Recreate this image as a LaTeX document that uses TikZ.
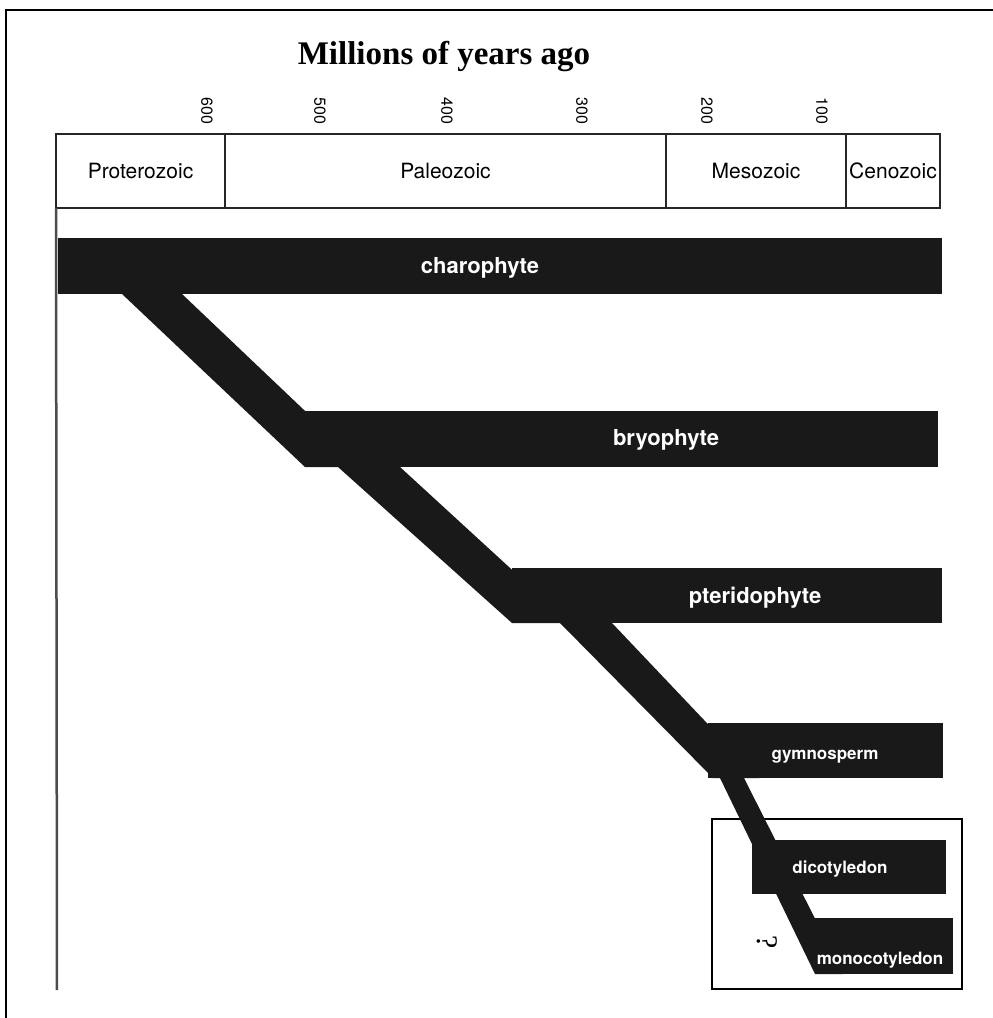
\documentclass[tikz,border=0pt]{standalone}
\usepackage{fontspec}
\setmainfont{Liberation Serif}
\setsansfont{TeX Gyre Heros}
\usetikzlibrary{positioning,calc}

\tikzset{
  lineage/.style={fill=black!90, inner sep=0pt, outer sep=0pt, anchor=north west},
  trunk/.style={fill=black!90},
  taxon/.style={text=white, inner sep=0pt, font=\sffamily\bfseries\fontsize{22}{24}\selectfont},
  small taxon/.style={taxon, font=\sffamily\bfseries\fontsize{17}{19}\selectfont},
  eracell/.style={draw=black!85, line width=2pt, inner sep=0pt, outer sep=0pt,
    minimum height=74pt, font=\sffamily\fontsize{21}{24}\selectfont},
  agelabel/.style={rotate=-90, inner sep=0pt, font=\sffamily\fontsize{16}{18}\selectfont},
}

\begin{document}
\begin{tikzpicture}[x=1pt,y=-1pt]
    \useasboundingbox (0,0) rectangle (993,1018);
    % page frame
    \draw[line width=1.5pt] (6,1018) -- (6,10) -- (993,10);

    \node[font=\bfseries\fontsize{33}{36}\selectfont] (title) at (444,57) {Millions of years ago};
    \foreach \age/\xpos in {600/207, 500/320, 400/447, 300/582, 200/707, 100/822}
      \node[agelabel] (age\age) at (\xpos,111) {\age};

    % eras
    \node[eracell, minimum width=169pt, anchor=north west] (prot) at (56,134) {Proterozoic};
    \node[eracell, minimum width=441pt, right=0pt of prot]  (paleo) {Paleozoic};
    \node[eracell, minimum width=180pt, right=0pt of paleo] (meso)  {Mesozoic};
    \node[eracell, minimum width=94pt,  right=0pt of meso]  (ceno)  {Cenozoic};

    \coordinate (axis end) at (57,990);
    \draw[black!70, line width=2.5pt] (prot.south west) -- (axis end);

    % angiosperm box
    \node[draw, line width=2pt, minimum width=250pt, minimum height=170pt,
      anchor=north west, inner sep=0pt] (angio) at (711,818) {};

    % lineages
    \node[lineage, minimum width=884pt, minimum height=56pt] (charo) at (58,238) {};
    \node[lineage, minimum width=633pt, minimum height=56pt] (bryo)  at (305,411) {};
    \node[lineage, minimum width=430pt, minimum height=55pt] (pteri) at (512,568) {};
    \node[lineage, minimum width=235pt, minimum height=55pt] (gymno) at (708,723) {};
    \node[lineage, minimum width=194pt, minimum height=54pt] (dicot) at (752,840) {};
    \node[lineage, minimum width=138pt, minimum height=56pt] (mono)  at (815,918) {};

    \fill[trunk] ($(charo.south west)+(64,0)$) -- ($(charo.south west)+(124,0)$)
      -- ($(bryo.south west)+(59,0)$) -- (bryo.south west) -- cycle;
    \fill[trunk] ($(bryo.south west)+(33,0)$) -- ($(bryo.south west)+(95,0)$)
      -- ($(pteri.south west)+(58,0)$) -- (pteri.south west) -- cycle;
    \fill[trunk] ($(pteri.south west)+(48,0)$) -- ($(pteri.south west)+(100,0)$)
      -- ($(gymno.south west)+(51,0)$) -- ($(gymno.south west)+(5,0)$) -- cycle;
    \fill[trunk] ($(gymno.south west)+(12,0)$) -- ($(gymno.south west)+(36,0)$)
      -- ($(mono.south west)+(28,0)$) -- (mono.south west) -- cycle;

    \node[taxon] (charo label) at (480,268) {charophyte};
    \node[taxon] (bryo label)  at (666,440) {bryophyte};
    \node[taxon] (pteri label) at (755,598) {pteridophyte};
    \node[small taxon] (gymno label) at (825,757) {gymnosperm};
    \node[small taxon] (dicot label) at (840,869) {dicotyledon};
    \node[small taxon] (mono label)  at (880,960) {monocotyledon};

    \node[rotate=-90, inner sep=0pt, font=\fontsize{30}{32}\selectfont] (query) at (767,942) {?};
\end{tikzpicture}
\end{document}
